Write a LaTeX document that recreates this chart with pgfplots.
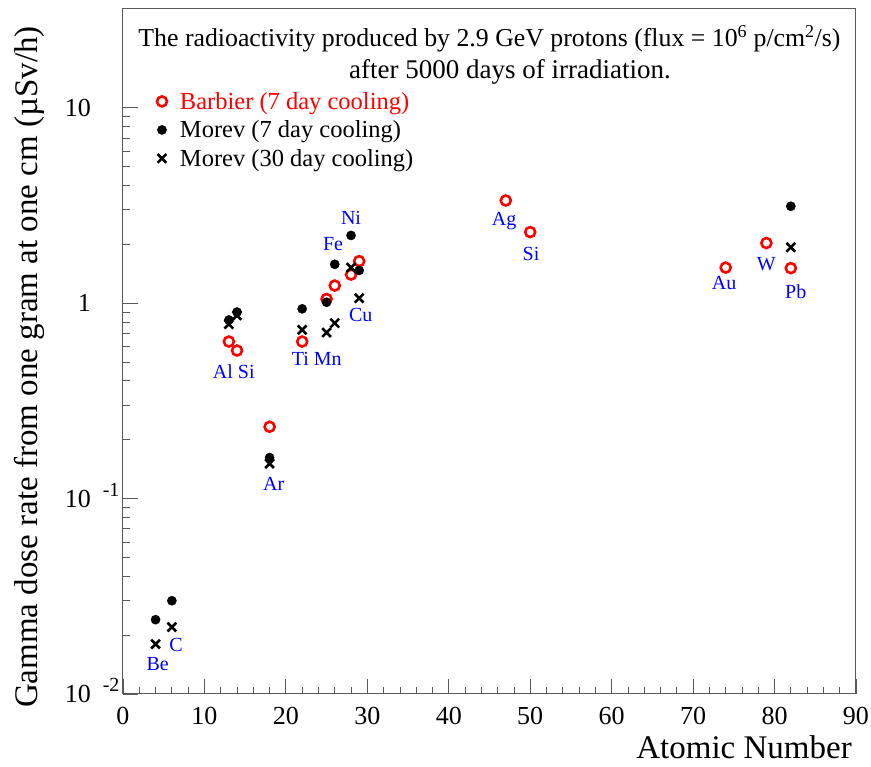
\documentclass[border=0pt]{standalone}
\usepackage{fontspec}
\setmainfont{Liberation Serif}
\usepackage{pgfplots}
\pgfplotsset{compat=1.18}
\definecolor{framegray}{gray}{0.35}
\newcommand{\Ylab}[1]{10\rlap{\hspace{12pt}\smash{\raisebox{11pt}{\fontsize{20}{20}\selectfont #1}}}\hspace{10pt}}
\pgfplotstableread{
x y
13 0.636
14 0.572
18 0.233
22 0.636
25 1.05
26 1.23
28 1.40
29 1.64
47 3.35
50 2.31
74 1.52
79 2.03
82 1.51
}\barbier
\pgfplotstableread{
x y
4 0.024
6 0.030
13 0.82
14 0.90
18 0.162
22 0.935
25 1.01
26 1.58
28 2.22
29 1.47
82 3.13
}\morevseven
\pgfplotstableread{
x y
4 0.018
6 0.022
13 0.78
14 0.865
18 0.151
22 0.73
25 0.707
26 0.79
28 1.52
29 1.06
82 1.93
}\morevthirty
\begin{document}
\begin{tikzpicture}
\begin{axis}[
  width=733pt, height=685pt, scale only axis,
  xmin=0, xmax=90, ymode=log, ymin=0.01, ymax=32,
  xtick={0,10,...,90}, minor x tick num=4,
  ytick={0.01,0.1,1,10},
  yticklabels={\Ylab{-2},\Ylab{-1},1,10},
  tick pos=left,
  major tick length=15pt, minor tick length=7.5pt,
  tick style={framegray, line width=0.8pt},
  axis line style={framegray, line width=1pt},
  /pgf/number format/assume math mode=true,
  ticklabel style={font=\fontsize{26}{26}\selectfont, inner sep=0pt},
  xticklabel style={anchor=north, yshift=-13pt},
  yticklabel style={anchor=east, xshift=-32pt},
  xlabel={Atomic Number},
  ylabel={Gamma dose rate from one gram at one cm (µSv/h)},
  label style={font=\fontsize{33}{33}\selectfont, inner sep=0pt},
  xlabel style={at={(axis description cs:0.9945,-0.0949)}, anchor=base east},
  ylabel style={at={(axis description cs:-0.116,0.975)}, anchor=base east},
  clip=false,
  legend style={at={(axis description cs:0.030,0.880)}, anchor=north west,
    draw=none, fill=none, inner sep=0pt, outer sep=0pt,
    font=\fontsize{24.5}{24.5}\selectfont, row sep=8pt, column sep=0pt,
    nodes={inner sep=1pt}},
  legend cell align=left,
  legend image code/.code={\path[draw=none,fill=none] (0pt,-7pt) rectangle (34pt,7pt); \draw[mark repeat=2,mark phase=2,#1] plot coordinates {(0pt,0pt) (17pt,0pt) (34pt,0pt)};},
]
\path (axis description cs:-0.1678,-0.1066) rectangle (axis description cs:1.0205,1.0131);
\addplot[only marks, mark=o, mark size=5pt, red, line width=2.6pt] table {\barbier};
\addlegendentry{\textcolor{red}{Barbier (7 day cooling)}}
\addplot[only marks, mark=*, mark size=4.6pt, black] table {\morevseven};
\addlegendentry{Morev (7 day cooling)}
\addplot[only marks, mark=x, mark size=6.2pt, black, line width=2.6pt] table {\morevthirty};
\addlegendentry{Morev (30 day cooling)}
\node[font=\fontsize{25.8}{25.8}\selectfont, anchor=base] at (axis description cs:0.5,0.9445) {The radioactivity produced by 2.9 GeV protons (flux = 10\textsuperscript{6} p/cm\textsuperscript{2}/s)};
\node[font=\fontsize{27}{27}\selectfont, anchor=base] at (axis description cs:0.528,0.899) {after 5000 days of irradiation.};
\begin{scope}[every node/.style={text=blue, font=\fontsize{20}{20}\selectfont, inner sep=0pt}]
\node at (axis cs:28.0,2.72) {Ni};
\node at (axis cs:25.8,2.0) {Fe};
\node at (axis cs:29.2,0.87) {Cu};
\node at (axis cs:23.8,0.517) {Ti Mn};
\node at (axis cs:13.6,0.444) {Al Si};
\node at (axis cs:18.5,0.119) {Ar};
\node at (axis cs:4.26,0.0142) {Be};
\node at (axis cs:6.5,0.0178) {C};
\node at (axis cs:46.8,2.63) {Ag};
\node at (axis cs:50.1,1.78) {Si};
\node at (axis cs:73.8,1.27) {Au};
\node at (axis cs:79.0,1.58) {W};
\node at (axis cs:82.6,1.15) {Pb};
\end{scope}
\end{axis}
\end{tikzpicture}
\end{document}
